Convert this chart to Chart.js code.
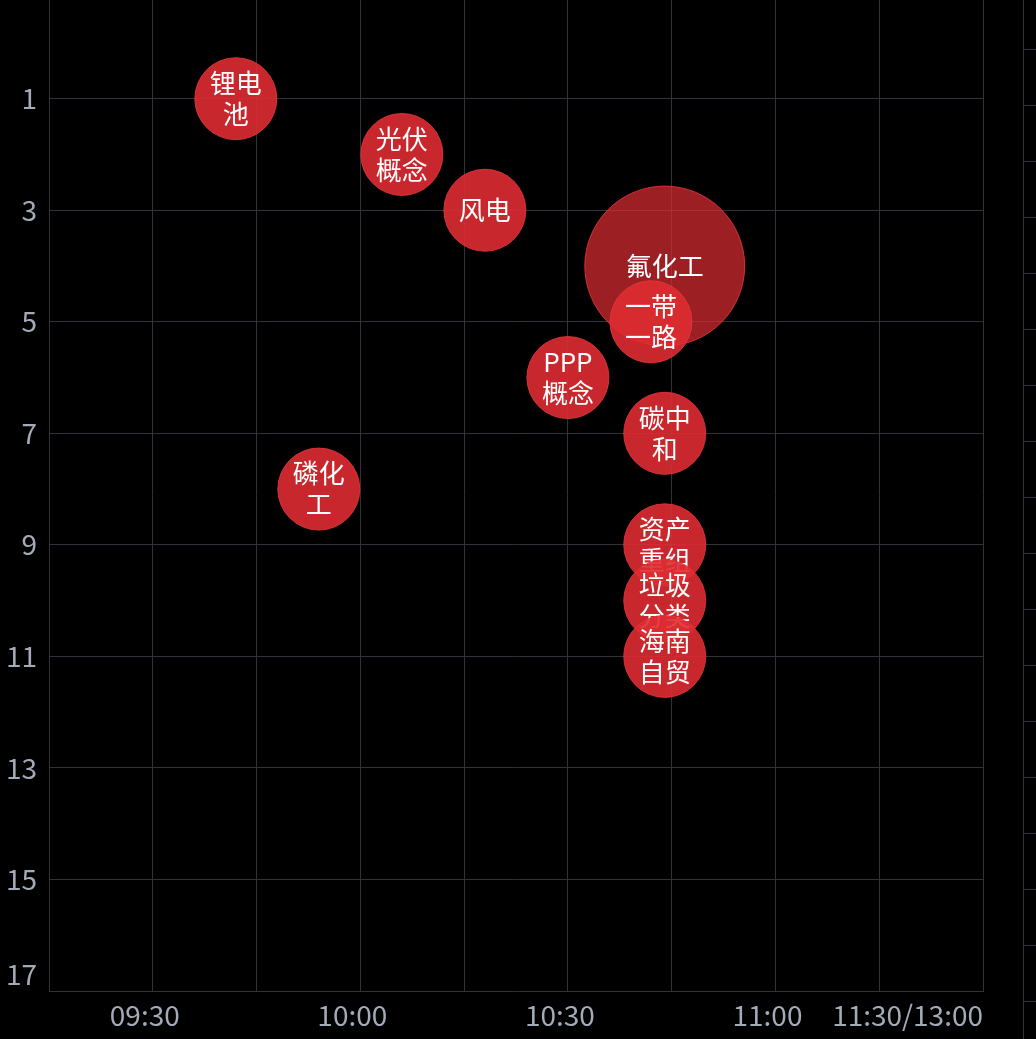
<!DOCTYPE html>
<html>
<head>
<meta charset="utf-8">
<script src="https://cdn.jsdelivr.net/npm/chart.js@4.4.1/dist/chart.umd.min.js"></script>
<style>
    html, body { margin: 0; padding: 0; background: #000; }
    #wrap { position: relative; width: 1036px; height: 1039px; overflow: hidden; background: #000; }
    #main { position: absolute; left: 0; top: 0; }
    #side { position: absolute; left: 1018px; top: 0; }
</style>
</head>
<body>
<div id="wrap">
    <canvas id="main" width="1036" height="1039"></canvas>
    <canvas id="side" width="18" height="1039"></canvas>
</div>
<script>
// sector, time of strength, rank, heat
const sectors = ['锂电池', '光伏概念', '风电', '氟化工', '一带一路', 'PPP概念', '碳中和', '磷化工', '资产重组', '垃圾分类', '海南自贸'];
const times = ['09:42', '10:06', '10:18', '10:44', '10:42', '10:30', '10:44', '09:54', '10:44', '10:44', '10:44'];
const ranks = [1, 2, 3, 4, 5, 6, 7, 8, 9, 10, 11];
const heat = [1, 1, 1, 3.8, 1, 1, 1, 1, 1, 1, 1];

// axes
const gridTimes = ['09:30', '09:45', '10:00', '10:15', '10:30', '10:45', '11:00', '11:15', '11:30'];
const timeLabels = ['09:30', '10:00', '10:30', '11:00'];
const endLabel = '11:30/13:00';
const rankTicks = [1, 3, 5, 7, 9, 11, 13, 15, 17];
const sideTicks = [0, 1, 2, 3, 4, 5, 6, 7, 8, 9, 10, 11, 12, 13, 14, 15, 16, 17];

const toMin = (t) => {
    const [h, m] = t.split(':').map(Number);
    return h * 60 + m;
};
const fmtMin = (v) => {
    const h = Math.floor(v / 60);
    const m = Math.round(v - h * 60);
    return String(h).padStart(2, '0') + ':' + String(m).padStart(2, '0');
};

const X_MIN = toMin('09:15');
const X_MAX = toMin('11:30');
const GRID = '#31333b';
const TICK_COLOR = '#a3aab8';
const FONT = "'Noto Sans CJK SC', 'Noto Sans', sans-serif";
const BASE_R = 41;

Chart.defaults.font.family = FONT;

// bubbles may run over the plot edge, don't reserve room for them
Chart.BubbleController.prototype.getMaxOverflow = () => false;

// labels inside bubbles, drawn right after each bubble so later bubbles cover them
const bubbleLabels = {
    id: 'bubbleLabels',
    afterDatasetDraw(chart, args) {
        const ds = chart.data.datasets[args.index];
        const ctx = chart.ctx;
        ctx.save();
        ctx.font = '26px ' + FONT;
        ctx.fillStyle = '#ffffff';
        ctx.textAlign = 'center';
        ctx.textBaseline = 'middle';
        args.meta.data.forEach((pt, j) => {
            const r = ds.data[j].r;
            const maxW = r * 1.4;
            // wrap by character
            const lines = [];
            let cur = '';
            for (const ch of ds.label) {
                if (cur && ctx.measureText(cur + ch).width > maxW) {
                    lines.push(cur);
                    cur = ch;
                } else {
                    cur += ch;
                }
            }
            if (cur) lines.push(cur);
            const lh = 31;
            const y0 = pt.y - (lines.length - 1) * lh / 2;
            lines.forEach((line, k) => ctx.fillText(line, pt.x, y0 + k * lh));
        });
        ctx.restore();
    }
};

const datasets = sectors.map((name, i) => ({
    label: name,
    data: [{x: toMin(times[i]), y: ranks[i], r: BASE_R * Math.sqrt(heat[i])}],
    backgroundColor: heat[i] > 2 ? 'rgba(222, 44, 50, 0.7)' : 'rgba(222, 44, 50, 0.9)',
    borderColor: 'rgba(226, 52, 58, 0.9)',
    borderWidth: 1,
    order: sectors.length - i,
}));

new Chart(document.getElementById('main'), {
    type: 'bubble',
    data: {
        datasets: datasets,
    },
    options: {
        responsive: false,
        animation: false,
        events: [],
        layout: {
            padding: {left: 0, right: 53, top: 0, bottom: 0},
        },
        scales: {
            x: {
                type: 'linear',
                position: 'bottom',
                min: X_MIN,
                max: X_MAX,
                afterBuildTicks: (s) => {
                    s.ticks = gridTimes.map((t) => ({value: toMin(t)}));
                },
                ticks: {
                    autoSkip: false,
                    maxRotation: 0,
                    labelOffset: -8,
                    padding: 8,
                    color: TICK_COLOR,
                    font: {size: 28},
                    callback: (v) => {
                        const t = fmtMin(v);
                        return timeLabels.includes(t) ? t : '';
                    },
                },
                grid: {
                    color: GRID,
                    drawTicks: false,
                },
                border: {
                    color: GRID,
                },
                afterFit: (s) => {
                    s.height = 48;
                    s.paddingLeft = 0;
                    s.paddingRight = 0;
                },
            },
            // end label, right aligned to the last grid line
            x2: {
                type: 'linear',
                position: 'bottom',
                min: X_MIN,
                max: X_MAX,
                afterBuildTicks: (s) => {
                    s.ticks = [{value: X_MAX}];
                },
                ticks: {
                    autoSkip: false,
                    maxRotation: 0,
                    align: 'end',
                    mirror: true,
                    padding: 7,
                    color: TICK_COLOR,
                    font: {size: 28},
                    callback: () => endLabel,
                },
                grid: {
                    display: false,
                    drawTicks: false,
                },
                border: {
                    display: false,
                },
                afterFit: (s) => {
                    s.height = 0;
                    s.paddingLeft = 0;
                    s.paddingRight = 0;
                },
            },
            y: {
                type: 'linear',
                reverse: true,
                min: -0.77,
                max: 17,
                afterBuildTicks: (s) => {
                    s.ticks = rankTicks.map((v) => ({value: v}));
                },
                ticks: {
                    autoSkip: false,
                    padding: 12,
                    color: TICK_COLOR,
                    font: {size: 28},
                    // the last label sits above the bottom edge
                    callback: (v) => v === 17 ? ['17', ''] : String(v),
                },
                grid: {
                    color: (c) => (c.tick && c.tick.value === 17) ? 'rgba(0,0,0,0)' : GRID,
                    drawTicks: false,
                },
                border: {
                    color: GRID,
                },
                afterFit: (s) => {
                    s.width = 49;
                    s.paddingTop = 0;
                    s.paddingBottom = 0;
                },
            },
        },
        plugins: {
            legend: {display: false},
            tooltip: {enabled: false},
        },
    },
    plugins: [bubbleLabels],
});

// neighbouring panel, cut off at the right edge
new Chart(document.getElementById('side'), {
    type: 'scatter',
    data: {datasets: []},
    options: {
        responsive: false,
        animation: false,
        events: [],
        layout: {padding: 0},
        scales: {
            x: {display: false, min: 0, max: 1},
            y: {
                type: 'linear',
                reverse: true,
                min: -0.875,
                max: 17.678,
                afterBuildTicks: (s) => {
                    s.ticks = sideTicks.map((v) => ({value: v}));
                },
                ticks: {display: false},
                grid: {color: GRID, drawTicks: false},
                border: {color: GRID},
                afterFit: (s) => {
                    s.width = 5;
                    s.paddingTop = 0;
                    s.paddingBottom = 0;
                },
            },
        },
        plugins: {
            legend: {display: false},
            tooltip: {enabled: false},
        },
    },
});
</script>
</body>
</html>
